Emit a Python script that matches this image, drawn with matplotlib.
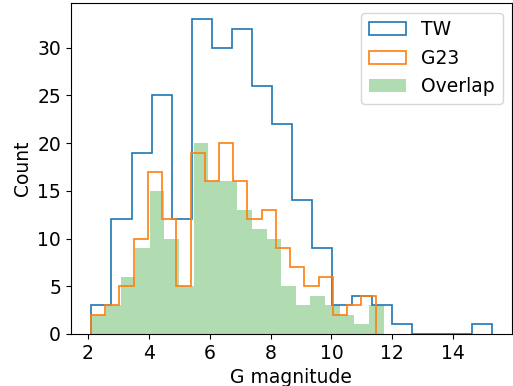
import numpy as np
import matplotlib
matplotlib.use("Agg")
import matplotlib.pyplot as plt
from matplotlib.ticker import MultipleLocator

# counts per bin, 20 equal-width bins for each sample
tw_range = (2.12, 15.27)
tw_counts = [3, 12, 19, 25, 12, 33, 30, 32, 26, 22,
             14, 9, 3, 4, 3, 1, 0, 0, 0, 1]

g23_range = (2.10, 11.45)
g23_counts = [2, 3, 5, 10, 17, 12, 5, 19, 16, 20,
              16, 12, 13, 9, 7, 5, 6, 2, 3, 4]

overlap_range = (2.12, 11.71)
overlap_counts = [2, 3, 6, 9, 15, 10, 5, 20, 16, 16,
                  13, 11, 10, 5, 3, 4, 3, 2, 1, 3]


def plot_hist(ax, rng, counts, **kw):
    edges = np.linspace(rng[0], rng[1], len(counts) + 1)
    ax.hist(edges[:-1], bins=edges, weights=counts, **kw)


def main():
    plt.rcParams["font.size"] = 13.5
    fig = plt.figure(figsize=(5.13, 3.86), dpi=100)
    ax = fig.add_axes([0.138, 0.135, 0.86, 0.856])

    plot_hist(ax, tw_range, tw_counts, histtype="step", color="C0",
              linewidth=1.2, label="TW")
    plot_hist(ax, g23_range, g23_counts, histtype="step", color="C1",
              linewidth=1.2, label="G23")
    plot_hist(ax, overlap_range, overlap_counts, color="C2", alpha=0.37,
              label="Overlap")

    ax.xaxis.set_major_locator(MultipleLocator(2))
    ax.yaxis.set_major_locator(MultipleLocator(5))
    ax.set_xlabel("G magnitude")
    ax.set_ylabel("Count")
    ax.legend(loc="upper right")
    fig.savefig("out.png", dpi=100)


if __name__ == "__main__":
    main()
